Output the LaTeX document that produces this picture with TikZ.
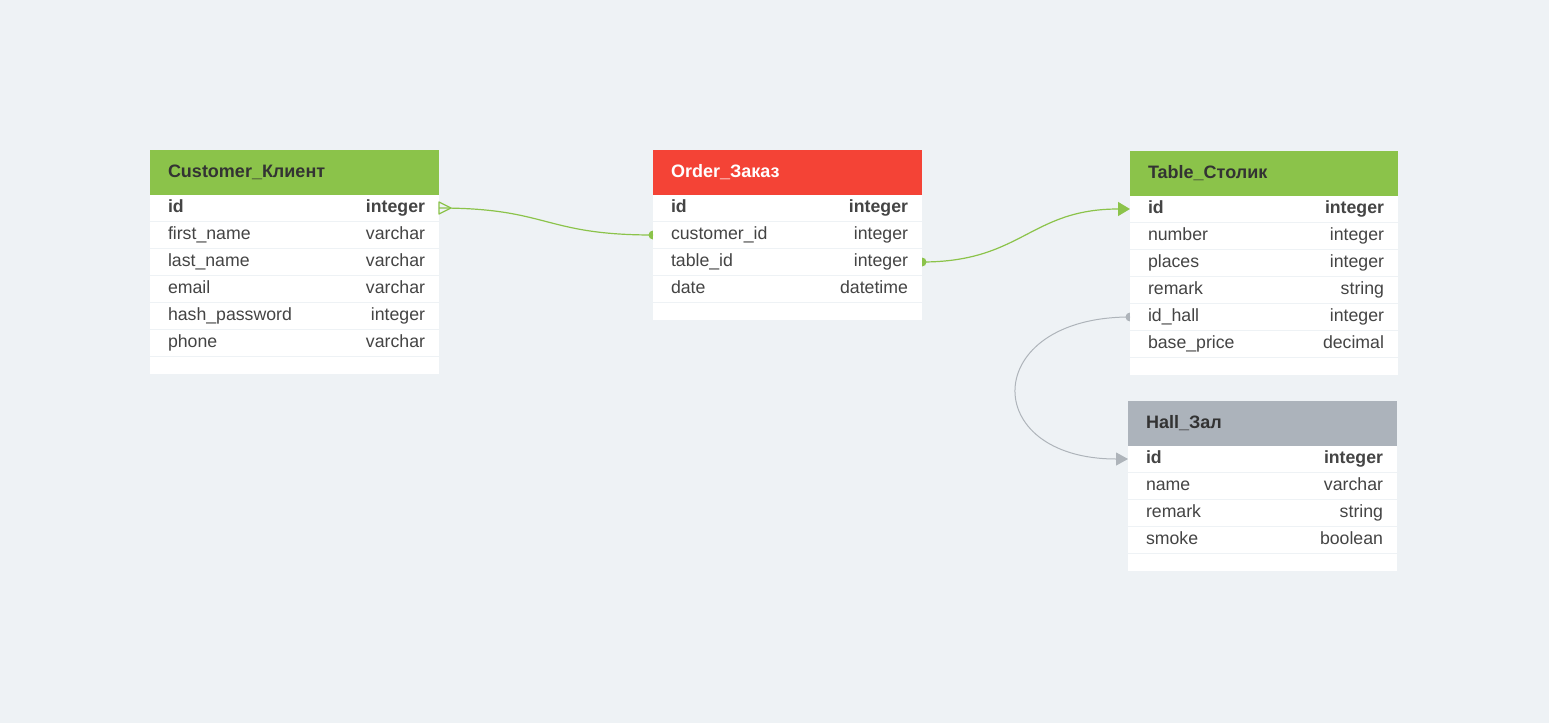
\documentclass[tikz,border=0pt]{standalone}
\usepackage{fontspec}
\setmainfont{Liberation Sans}
\usetikzlibrary{positioning,arrows.meta}
\definecolor{bgcol}{HTML}{EEF2F5}
\definecolor{hdrgreen}{HTML}{8BC34A}
\definecolor{hdrred}{HTML}{F44336}
\definecolor{hdrgray}{HTML}{ACB3BB}
\definecolor{linkgray}{HTML}{AEB4BA}
\definecolor{txtdark}{HTML}{333333}
\definecolor{txtrow}{HTML}{444444}
\pgfdeclarelayer{back}
\pgfsetlayers{back,main}
\tikzset{
  hdr/.style 2 args={fill=#1, anchor=north west, text width=#2, minimum height=45pt,
    inner xsep=14pt, inner ysep=0pt, outer sep=0pt, text height=13pt, text depth=4pt,
    align=left, text=txtdark, font=\fontsize{18}{20}\selectfont\bfseries},
  row/.style={fill=white, text width=#1, minimum height=26pt, inner xsep=14pt,
    inner ysep=0pt, outer sep=0pt, text height=13pt, text depth=4pt, align=left,
    text=txtrow, font=\fontsize{17.7}{20}\selectfont},
  endrow/.style={row=#1, minimum height=17pt, text height=0pt, text depth=0pt},
  greenlink/.style={draw=hdrgreen, line width=1.2pt},
  graylink/.style={draw=linkgray, line width=1pt}
}
\newcommand\pad{\hspace*{4pt}}
\begin{document}
\begin{tikzpicture}[x=1pt,y=-1pt]
\begin{pgfonlayer}{back}
\fill[bgcol] (0,0) rectangle (1549,723);
\end{pgfonlayer}
\node[hdr={hdrgreen}{261pt}] (cust) at (150,150) {\pad Customer\_Клиент};
\node[row=261pt, below=0pt of cust] (cust-id) {\pad\textbf{id}\hfill\textbf{integer}};
\node[row=261pt, below=1pt of cust-id] (cust-fn) {\pad first\_name\hfill varchar};
\node[row=261pt, below=1pt of cust-fn] (cust-ln) {\pad last\_name\hfill varchar};
\node[row=261pt, below=1pt of cust-ln] (cust-em) {\pad email\hfill varchar};
\node[row=261pt, below=1pt of cust-em] (cust-pw) {\pad hash\_password\hfill integer};
\node[row=261pt, below=1pt of cust-pw] (cust-ph) {\pad phone\hfill varchar};
\node[endrow=261pt, below=1pt of cust-ph] (cust-end) {};

\node[hdr={hdrred}{241pt}, text=white] (ord) at (653,150) {\pad Order\_Заказ};
\node[row=241pt, below=0pt of ord] (ord-id) {\pad\textbf{id}\hfill\textbf{integer}};
\node[row=241pt, below=1pt of ord-id] (ord-cid) {\pad customer\_id\hfill integer};
\node[row=241pt, below=1pt of ord-cid] (ord-tid) {\pad table\_id\hfill integer};
\node[row=241pt, below=1pt of ord-tid] (ord-dt) {\pad date\hfill datetime};
\node[endrow=241pt, below=1pt of ord-dt] (ord-end) {};

\node[hdr={hdrgreen}{240pt}] (tab) at (1130,151) {\pad Table\_Столик};
\node[row=240pt, below=0pt of tab] (tab-id) {\pad\textbf{id}\hfill\textbf{integer}};
\node[row=240pt, below=1pt of tab-id] (tab-nr) {\pad number\hfill integer};
\node[row=240pt, below=1pt of tab-nr] (tab-pl) {\pad places\hfill integer};
\node[row=240pt, below=1pt of tab-pl] (tab-rm) {\pad remark\hfill string};
\node[row=240pt, below=1pt of tab-rm] (tab-hall) {\pad id\_hall\hfill integer};
\node[row=240pt, below=1pt of tab-hall] (tab-bp) {\pad base\_price\hfill decimal};
\node[endrow=240pt, below=1pt of tab-bp] (tab-end) {};

\node[hdr={hdrgray}{241pt}] (hall) at (1128,401) {\pad Hall\_Зал};
\node[row=241pt, below=0pt of hall] (hall-id) {\pad\textbf{id}\hfill\textbf{integer}};
\node[row=241pt, below=1pt of hall-id] (hall-nm) {\pad name\hfill varchar};
\node[row=241pt, below=1pt of hall-nm] (hall-rm) {\pad remark\hfill string};
\node[row=241pt, below=1pt of hall-rm] (hall-sm) {\pad smoke\hfill boolean};
\node[endrow=241pt, below=1pt of hall-sm] (hall-end) {};

\begin{pgfonlayer}{back}
\fill[hdrgreen] (ord-cid.west) circle (4.5pt);
\fill[hdrgreen] (ord-tid.east) circle (4.5pt);
\fill[linkgray] (tab-hall.west) circle (4.5pt);
\end{pgfonlayer}
\draw[greenlink] (cust-id.east) .. controls +(110,0) and +(-110,0) .. (ord-cid.west);
\draw[greenlink, line join=round] ([xshift=12pt]cust-id.east) -- ([yshift=6pt]cust-id.east) -- ([yshift=-6pt]cust-id.east) -- cycle;
\draw[greenlink, -{Triangle[length=12pt,width=14pt]}] (ord-tid.east) .. controls +(100,0) and +(-100,0) .. (tab-id.west);
\draw[graylink, -{Triangle[length=12pt,width=13pt]}] (tab-hall.west) .. controls +(-150,0) and +(-150,0) .. (hall-id.west);
\end{tikzpicture}
\end{document}
